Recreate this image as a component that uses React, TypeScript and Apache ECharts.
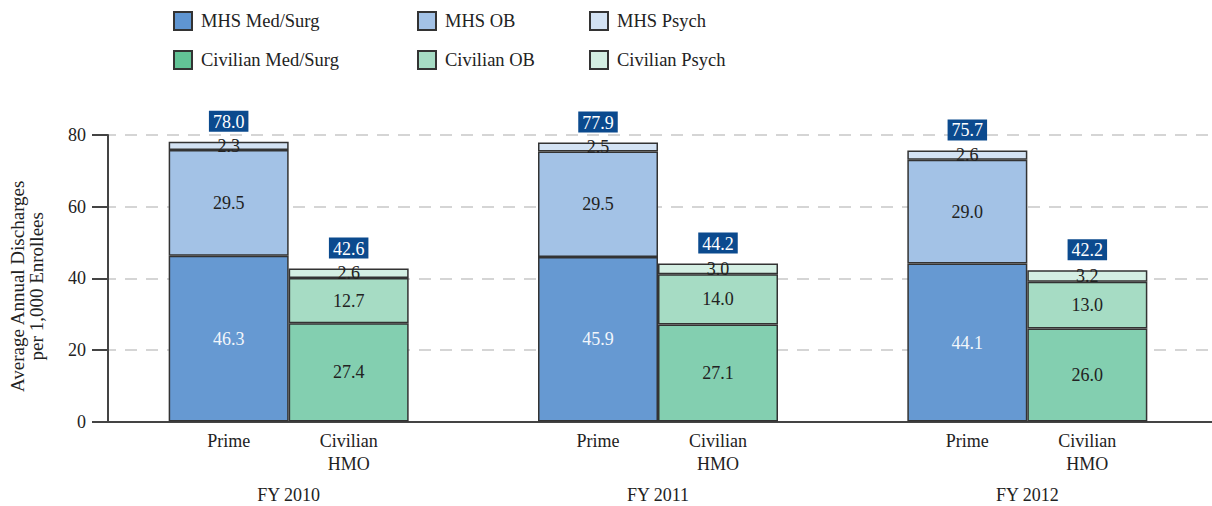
import React, { useEffect, useRef } from "react";
import * as echarts from "echarts";

const categories = ["FY 2010", "FY 2011", "FY 2012"];
const primeLabel = "Prime";
const civilianLabel = "Civilian\nHMO";

const mhsMedSurg = [46.3, 45.9, 44.1];
const mhsOB = [29.5, 29.5, 29.0];
const mhsPsych = [2.3, 2.5, 2.6];
const mhsTotal = [78.0, 77.9, 75.7];

const civMedSurg = [27.4, 27.1, 26.0];
const civOB = [12.7, 14.0, 13.0];
const civPsych = [2.6, 3.0, 3.2];
const civTotal = [42.6, 44.2, 42.2];

const yTicks = { min: 0, max: 80, interval: 20 };

const FONT = "'Liberation Serif', 'Times New Roman', serif";
const TEXT = "#222";
const BORDER = "#333";

const colors = {
  mhsMed: "#6699d2",
  mhsOB: "#a3c2e6",
  mhsPsych: "#d3e2f3",
  civMed: "#83cfb0",
  civOB: "#a6dcc4",
  civPsych: "#d4efe3",
};

function segment(name: string, stack: string, data: number[], color: string, labelColor = TEXT) {
  return {
    name,
    type: "bar",
    stack,
    data,
    barWidth: 120,
    barGap: "0%",
    itemStyle: { color, borderColor: BORDER, borderWidth: 1.5 },
    label: {
      show: true,
      position: "inside",
      color: labelColor,
      fontFamily: FONT,
      fontSize: 18,
      formatter: (p: any) => Number(p.value).toFixed(1),
    },
  };
}

function baseLabel(stack: string, text: string) {
  return {
    name: stack + "-base",
    type: "bar",
    stack,
    data: categories.map(() => 0),
    barWidth: 120,
    barGap: "0%",
    itemStyle: { color: "transparent", borderWidth: 0 },
    label: {
      show: true,
      position: "bottom",
      distance: 8,
      color: TEXT,
      fontFamily: FONT,
      fontSize: 18,
      lineHeight: 23,
      formatter: () => text,
    },
  };
}

function totalLabel(stack: string, totals: number[]) {
  return {
    name: stack + "-total",
    type: "bar",
    stack,
    data: categories.map(() => 0),
    barWidth: 120,
    barGap: "0%",
    itemStyle: { color: "transparent", borderWidth: 0 },
    label: {
      show: true,
      position: "top",
      distance: 10,
      color: "#ffffff",
      backgroundColor: "#0b4a8e",
      padding: [2, 4, 1, 4],
      fontFamily: FONT,
      fontSize: 18,
      formatter: (p: any) => totals[p.dataIndex].toFixed(1),
    },
  };
}

function legendCol(left: number, data: any[]) {
  return {
    left,
    top: 6,
    orient: "vertical",
    icon: "rect",
    itemWidth: 18,
    itemHeight: 18,
    itemGap: 19,
    selectedMode: false,
    data,
    textStyle: {
      fontFamily: FONT,
      fontSize: 18.5,
      color: TEXT,
      lineHeight: 18,
      padding: [0, 0, 0, 4],
    },
  };
}

export default function App() {
  const ref = useRef<HTMLDivElement>(null);
  useEffect(() => {
    if (!ref.current) return;
    const chart = echarts.init(ref.current, null, { renderer: "svg" });
    chart.setOption({
      animation: false,
      backgroundColor: "#ffffff",
      legend: [
        legendCol(168, [
          { name: "MHS Med/Surg", itemStyle: { color: "#5f95d1" } },
          { name: "Civilian Med/Surg", itemStyle: { color: "#62c396" } },
        ]),
        legendCol(412, ["MHS OB", "Civilian OB"]),
        legendCol(584, ["MHS Psych", "Civilian Psych"]),
      ],
      grid: { left: 102, right: -10, top: 135, bottom: 84.5, containLabel: false },
      xAxis: {
        type: "category",
        data: categories,
        axisLine: { show: true, lineStyle: { color: "#444", width: 2 } },
        axisTick: { show: false },
        axisLabel: { margin: 64, color: TEXT, fontFamily: FONT, fontSize: 18 },
      },
      yAxis: {
        type: "value",
        min: yTicks.min,
        max: yTicks.max,
        interval: yTicks.interval,
        offset: -4,
        name: "Average Annual Discharges\nper 1,000 Enrollees",
        nameLocation: "middle",
        nameGap: 62,
        nameTextStyle: {
          fontFamily: FONT,
          fontSize: 19,
          color: TEXT,
          lineHeight: 19,
          padding: [0, 16, 0, 0],
        },
        axisLine: { show: true, lineStyle: { color: "#444", width: 2 } },
        axisTick: { show: true, length: 16, lineStyle: { color: "#444", width: 2 } },
        axisLabel: { margin: 22, color: TEXT, fontFamily: FONT, fontSize: 18 },
        splitLine: { show: true, lineStyle: { color: "#c8c8c8", width: 1.5, type: [12, 9] } },
      },
      series: [
        baseLabel("mhs", primeLabel),
        segment("MHS Med/Surg", "mhs", mhsMedSurg, colors.mhsMed, "#f2f6fb"),
        segment("MHS OB", "mhs", mhsOB, colors.mhsOB),
        segment("MHS Psych", "mhs", mhsPsych, colors.mhsPsych),
        totalLabel("mhs", mhsTotal),
        baseLabel("civ", civilianLabel),
        segment("Civilian Med/Surg", "civ", civMedSurg, colors.civMed),
        segment("Civilian OB", "civ", civOB, colors.civOB),
        segment("Civilian Psych", "civ", civPsych, colors.civPsych),
        totalLabel("civ", civTotal),
      ],
    });
    return () => chart.dispose();
  }, []);
  return (
    <div
      ref={ref}
      style={{ position: "fixed", left: 0, top: 0, width: 1212, height: 506 }}
    />
  );
}
